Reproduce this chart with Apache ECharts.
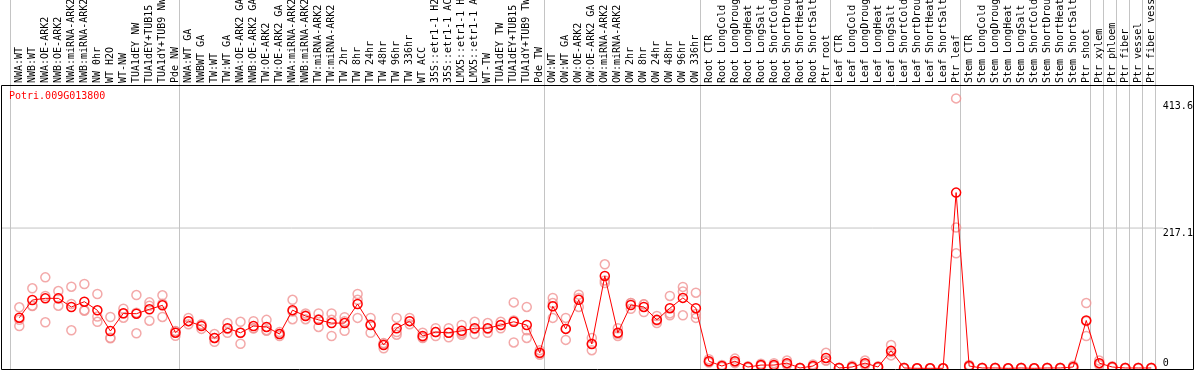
<!DOCTYPE html>
<html><head><meta charset="utf-8">
<script src="https://cdn.jsdelivr.net/npm/echarts@6/dist/echarts.min.js"></script>
<style>html,body{margin:0;padding:0;background:#fff}#c{width:1194px;height:370px}</style>
</head><body><div id="c"></div>
<script>
const geneName = 'Potri.009G013800';
const categories = [
  'NWA:WT','NWB:WT','NWA:OE-ARK2','NWB:OE-ARK2','NWA:miRNA-ARK2','NWB:miRNA-ARK2','NW 0hr','WT H2O','WT-NW','TUA1dEY NW','TUA1dEY+TUB15 NW','TUA1dY+TUB9 NW','Pde NW',
  'NWA:WT GA','NWBWT GA','TW:WT','TW:WT GA','NWA:OE-ARK2 GA','NWB:OE-ARK2 GA','TW:OE-ARK2','TW:OE-ARK2 GA','NWA:miRNA-ARK2 GA','NWB:miRNA-ARK2 GA','TW:miRNA-ARK2','TW:miRNA-ARK2 GA','TW 2hr','TW 8hr','TW 24hr','TW 48hr','TW 96hr','TW 336hr','WT ACC','35S::etr1-1 H2O','35S::etr1-1 ACC','LMX5::etr1-1 H2O','LMX5::etr1-1 ACC','WT-TW','TUA1dEY TW','TUA1dEY+TUB15 TW','TUA1dY+TUB9 TW','Pde TW',
  'OW:WT','OW:WT GA','OW:OE-ARK2','OW:OE-ARK2 GA','OW:miRNA-ARK2','OW:miRNA-ARK2 GA','OW 2hr','OW 8hr','OW 24hr','OW 48hr','OW 96hr','OW 336hr',
  'Root CTR','Root LongCold','Root LongDrought','Root LongHeat','Root LongSalt','Root ShortCold','Root ShortDrought','Root ShortHeat','Root ShortSalt','Ptr root',
  'Leaf CTR','Leaf LongCold','Leaf LongDrought','Leaf LongHeat','Leaf LongSalt','Leaf ShortCold','Leaf ShortDrought','Leaf ShortHeat','Leaf ShortSalt','Ptr leaf',
  'Stem CTR','Stem LongCold','Stem LongDrought','Stem LongHeat','Stem LongSalt','Stem ShortCold','Stem ShortDrought','Stem ShortHeat','Stem ShortSalt','Ptr shoot',
  'Ptr xylem','Ptr phloem','Ptr fiber','Ptr vessel','Ptr fiber vessel'
];
const means = [
  78.3,105.7,108.3,108.3,94.9,103.1,89.8,57.7,85.1,84.5,91.3,97.5,55.1,
  73,65.5,47,62,55,65.5,64,53,90,81,75,70,70,99.5,67,36,62,73,50,56,55,58,62,62,67,72,67,24,
  96,61,106,37.6,143,55,98,95,75,93,109,93,
  11,3.5,11,2,5,5,8,0.5,3.5,16,
  0.5,2,8,2,27,0.5,0,0,0,272,
  3.5,0.5,0.5,0,0.5,0,0.5,0.5,2,74,
  8,2,0.5,0.5,0.5
];
const rep1 = [
  94.4,123.8,140.8,119.6,126.3,130.5,115,79.4,92.2,113.4,102.1,113,57.7,
  78,67,53,70,72,73,75,56,106,85,85,85,79,115,78,39,78,78,55,62,62,67,72,70,72,102,95,28,
  109,78,114,47,161,62,101,99,81,112,126,117,
  14,5,15,3,7,8,12,1,6,24,
  1,4,12,3,36,1,0,0,0,417.8,
  5,1,1,0,1,0,1,1,4,101,
  12,3,1,1,1
];
const rep2 = [
  65.5,96.4,71.2,96.9,58.8,90,72,46.4,78.3,54.2,73.7,79.5,50.4,
  68,61,41,55,38,62,58,50,76,76,64,50,58,78,55,31,52,68,47,50,48,52,53,55,62,40,47,21,
  78,44,95,28,132,50,92,87,70,82,82,78,
  9,2,8,1,4,3,5,0,2,12,
  0,1,5,1,20,0,0,0,0,178,
  2,0,0,0,0,0,0,0,1,50,
  5,1,0,0,0
];
const rep3 = [
  75,97,112,108.4,99.6,89,80,47.3,84.8,85.9,96.9,100,57.2,
  73,68,47,61,55,62,59,53,88,82,76,75,73,106,68,38,56,73,48,56,55,55,61,61,67,74,59,23,
  101,61,109,38,136,53,101,99,74,85,119,84,
  10,3.5,10,2,4,4,7,0.5,2.5,12,
  0.5,1,7,2,25,0.5,0,0,0,218,
  3.5,0.5,0.5,0,0.5,0,0.5,0.5,1,73,
  7,2,0.5,0.5,0.5
];
const groupBoundaries = [0,13,41,53,63,73,83,84,85,86,87,88];
const yTickValues = [0, 217.1, 413.6];
const yMax = 437;

const FONT = 'DejaVu Sans Mono';
const boundarySet = new Set(groupBoundaries);
const repData = [];
[rep1, rep2, rep3].forEach(r => r.forEach((v, i) => repData.push([i, v])));

const chart = echarts.init(document.getElementById('c'), null, {renderer: 'canvas'});
chart.setOption({
  animation: false,
  backgroundColor: '#fff',
  title: {
    text: geneName, left: 9, top: 91, padding: 0,
    textStyle: {color: '#ff0000', fontFamily: FONT, fontSize: 10, fontWeight: 'normal'}
  },
  grid: [
    {left: 12.8, right: 36.2, top: 86, bottom: 1.7, outerBoundsMode: 'none', containLabel: false},
    {left: 10.5, right: 38.5, top: 0, bottom: 0, outerBoundsMode: 'none', containLabel: false},
    {left: 1, right: 31, top: 86, bottom: 1.7, outerBoundsMode: 'none', containLabel: false}
  ],
  xAxis: [
    {gridIndex: 0, type: 'category', data: categories, position: 'top', boundaryGap: true,
     axisLine: {show: false}, axisTick: {show: false}, splitLine: {show: false},
     axisLabel: {interval: 0, rotate: 90, margin: 3, fontFamily: FONT, fontSize: 10, color: '#000'}},
    {gridIndex: 1, type: 'category', data: categories, boundaryGap: true,
     axisLine: {show: false}, axisTick: {show: false}, axisLabel: {show: false},
     splitLine: {show: true, interval: (i) => boundarySet.has(i), lineStyle: {color: '#c4c4c4', width: 1}}},
    {gridIndex: 2, type: 'value', min: 0, max: 1, show: false}
  ],
  yAxis: [
    {gridIndex: 0, type: 'value', min: 0, max: yMax, position: 'right',
     axisLine: {show: false}, axisTick: {show: false}, splitLine: {show: false},
     axisLabel: {customValues: yTickValues, margin: 5, verticalAlign: 'top', verticalAlignMinLabel: 'bottom',
       fontFamily: FONT, fontSize: 10, color: '#000', formatter: (v) => String(v)}},
    {gridIndex: 1, type: 'value', show: false},
    {gridIndex: 2, type: 'value', min: 0, max: yMax, show: false}
  ],
  graphic: [{
    type: 'rect', z: 100, silent: true,
    shape: {x: 1.5, y: 85.5, width: 1192, height: 284},
    style: {fill: 'none', stroke: '#000', lineWidth: 1}
  }],
  series: [
    {type: 'line', xAxisIndex: 2, yAxisIndex: 2, data: [[0, yTickValues[1]], [1, yTickValues[1]]],
     symbol: 'none', silent: true, lineStyle: {color: '#c4c4c4', width: 1}, z: 1},
    {type: 'scatter', xAxisIndex: 0, yAxisIndex: 0, data: repData, symbol: 'circle', symbolSize: 9,
     clip: false, itemStyle: {color: 'rgba(0,0,0,0)', borderColor: '#f09494', borderWidth: 1.5}, z: 2},
    {type: 'line', xAxisIndex: 0, yAxisIndex: 0, data: means, symbol: 'circle', symbolSize: 9,
     showAllSymbol: true, clip: false,
     lineStyle: {color: '#ff0000', width: 1},
     itemStyle: {color: 'rgba(0,0,0,0)', borderColor: '#ff0000', borderWidth: 1.5}, z: 3}
  ]
});
</script>
</body></html>
